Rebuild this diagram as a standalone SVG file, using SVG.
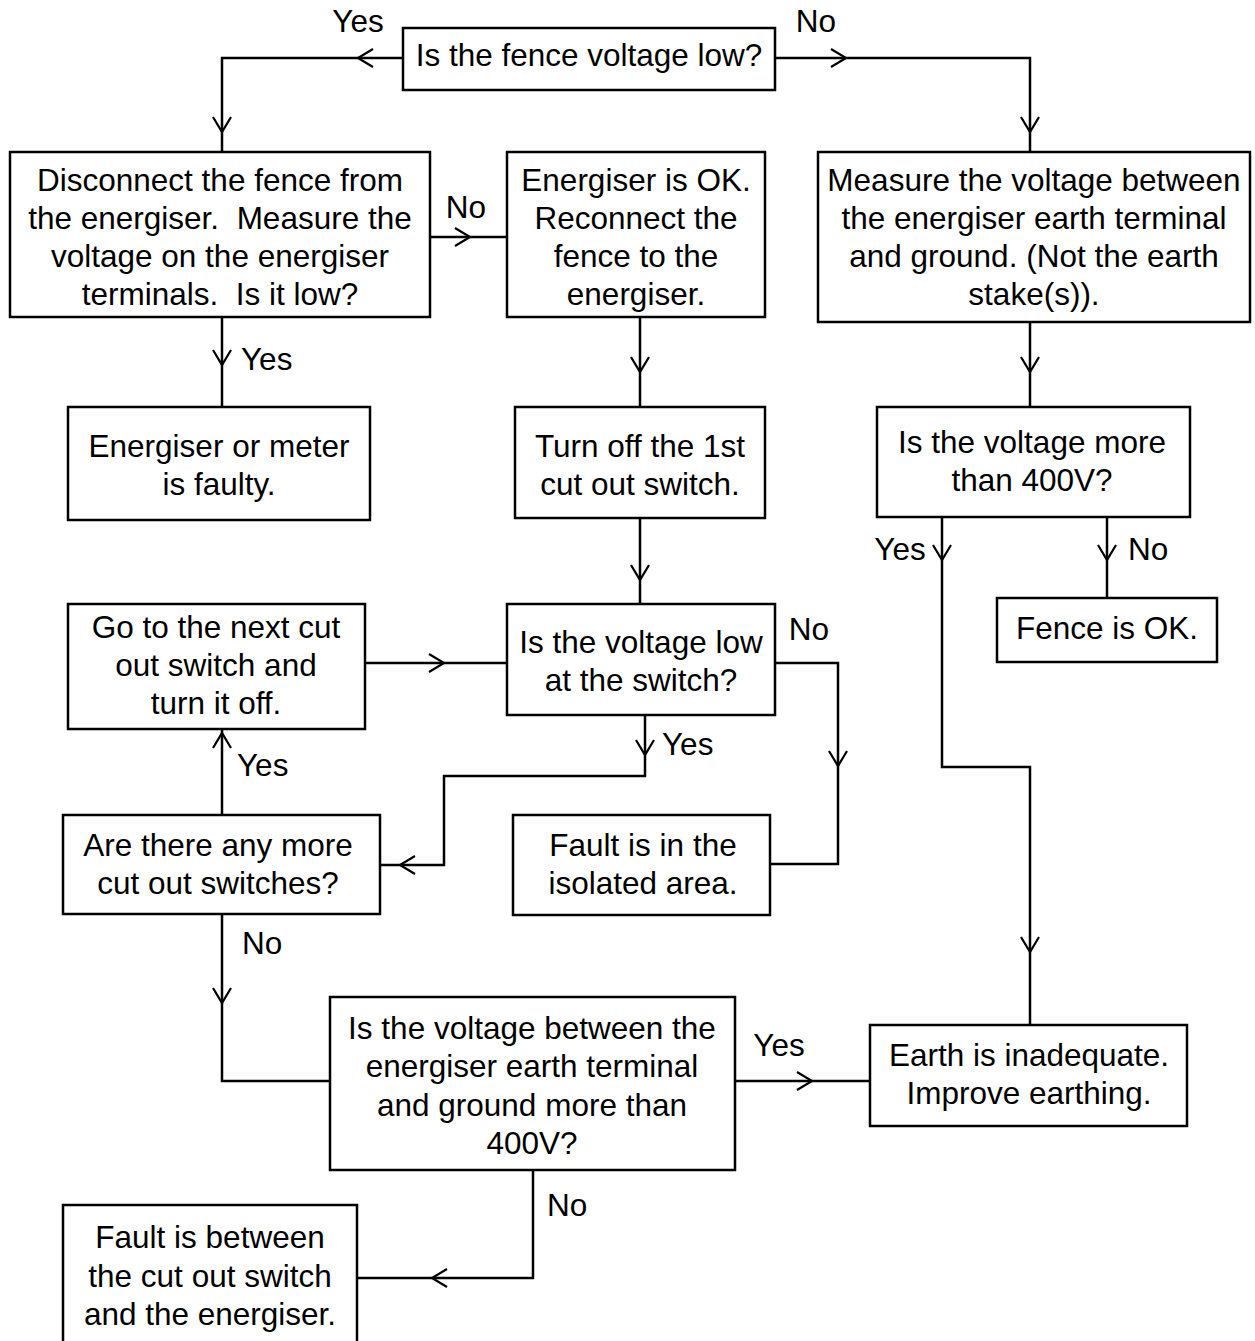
<svg xmlns="http://www.w3.org/2000/svg" width="1255" height="1341" viewBox="0 0 1255 1341">
<style>
.box{fill:#fff;stroke:#000;stroke-width:2.5}
.ln{fill:none;stroke:#000;stroke-width:2.5}
.ah{fill:none;stroke:#000;stroke-width:2.2}
text{font-family:"Liberation Sans",Arial,sans-serif;font-size:31.5px;fill:#000;white-space:pre}
.c{text-anchor:middle}
</style>
<defs>
<path id="ad" d="M-9,-15 L0,0 L9,-15" class="ah"/>
<path id="ar" d="M-15,-9 L0,0 L-15,9" class="ah"/>
<path id="al" d="M15,-9 L0,0 L15,9" class="ah"/>
<path id="au" d="M-9,15 L0,0 L9,15" class="ah"/>
</defs>
<g id="connectors">
<path class="ln" d="M403,58 H222 V152"/>
<use href="#al" x="358" y="58"/>
<use href="#ad" x="222" y="132"/>
<path class="ln" d="M775,58 H1030 V152"/>
<use href="#ar" x="846" y="58"/>
<use href="#ad" x="1030" y="132"/>
<path class="ln" d="M430,237 H507"/>
<use href="#ar" x="470" y="237"/>
<path class="ln" d="M222,317 V407"/>
<use href="#ad" x="222" y="365"/>
<path class="ln" d="M640,317 V407"/>
<use href="#ad" x="640" y="372"/>
<path class="ln" d="M1030,322 V407"/>
<use href="#ad" x="1030" y="372"/>
<path class="ln" d="M640,518 V604"/>
<use href="#ad" x="640" y="580"/>
<path class="ln" d="M942,517 V767 H1030 V1025"/>
<use href="#ad" x="942" y="560"/>
<use href="#ad" x="1030" y="952"/>
<path class="ln" d="M1107,517 V598"/>
<use href="#ad" x="1107" y="560"/>
<path class="ln" d="M365,663 H507"/>
<use href="#ar" x="444" y="663"/>
<path class="ln" d="M775,663 H838 V864 H768"/>
<use href="#ad" x="838" y="766"/>
<path class="ln" d="M645,715 V776 H444 V865 H380"/>
<use href="#ad" x="645" y="755"/>
<use href="#al" x="400" y="865"/>
<path class="ln" d="M222,815 V729"/>
<use href="#au" x="222" y="733"/>
<path class="ln" d="M222,914 V1081 H330"/>
<use href="#ad" x="222" y="1003"/>
<path class="ln" d="M735,1081 H870"/>
<use href="#ar" x="812" y="1081"/>
<path class="ln" d="M533,1170 V1278 H357"/>
<use href="#al" x="432" y="1278"/>
</g>
<g id="labels">
<text x="358" y="32" class="c">Yes</text>
<text x="816" y="32" class="c">No</text>
<text x="466" y="218" class="c">No</text>
<text x="241" y="370">Yes</text>
<text x="900" y="560" class="c">Yes</text>
<text x="1128" y="560">No</text>
<text x="809" y="640" class="c">No</text>
<text x="662" y="755">Yes</text>
<text x="237" y="776">Yes</text>
<text x="242" y="954">No</text>
<text x="779" y="1056" class="c">Yes</text>
<text x="547" y="1216">No</text>
</g>
<g id="n1"><rect class="box" x="403" y="28" width="372" height="62"/><text x="589" y="66" class="c">Is the fence voltage low?</text></g>
<g id="n2"><rect class="box" x="10" y="152" width="420" height="165"/>
<text x="220" y="191" class="c">Disconnect the fence from</text>
<text x="220" y="229" class="c">the energiser.  Measure the</text>
<text x="220" y="267" class="c">voltage on the energiser</text>
<text x="220" y="305" class="c">terminals.  Is it low?</text></g>
<g id="n3"><rect class="box" x="507" y="152" width="258" height="165"/>
<text x="636" y="191" class="c">Energiser is OK.</text>
<text x="636" y="229" class="c">Reconnect the</text>
<text x="636" y="267" class="c">fence to the</text>
<text x="636" y="305" class="c">energiser.</text></g>
<g id="n4"><rect class="box" x="818" y="152" width="432" height="170"/>
<text x="1034" y="191" class="c">Measure the voltage between</text>
<text x="1034" y="229" class="c">the energiser earth terminal</text>
<text x="1034" y="267" class="c">and ground. (Not the earth</text>
<text x="1034" y="305" class="c">stake(s)).</text></g>
<g id="n5"><rect class="box" x="68" y="407" width="302" height="113"/>
<text x="219" y="457" class="c">Energiser or meter</text>
<text x="219" y="495" class="c">is faulty.</text></g>
<g id="n6"><rect class="box" x="515" y="407" width="250" height="111"/>
<text x="640" y="457" class="c">Turn off the 1st</text>
<text x="640" y="495" class="c">cut out switch.</text></g>
<g id="n7"><rect class="box" x="877" y="407" width="313" height="110"/>
<text x="1032" y="453" class="c">Is the voltage more</text>
<text x="1032" y="491" class="c">than 400V?</text></g>
<g id="n8"><rect class="box" x="997" y="598" width="220" height="64"/>
<text x="1107" y="639" class="c">Fence is OK.</text></g>
<g id="n9"><rect class="box" x="68" y="604" width="297" height="125"/>
<text x="216" y="638" class="c">Go to the next cut</text>
<text x="216" y="676" class="c">out switch and</text>
<text x="216" y="714" class="c">turn it off.</text></g>
<g id="n10"><rect class="box" x="507" y="604" width="268" height="111"/>
<text x="641" y="653" class="c">Is the voltage low</text>
<text x="641" y="691" class="c">at the switch?</text></g>
<g id="n11"><rect class="box" x="63" y="815" width="317" height="99"/>
<text x="218" y="856" class="c">Are there any more</text>
<text x="218" y="894" class="c">cut out switches?</text></g>
<g id="n12"><rect class="box" x="513" y="815" width="257" height="100"/>
<text x="643" y="856" class="c">Fault is in the</text>
<text x="643" y="894" class="c">isolated area.</text></g>
<g id="n13"><rect class="box" x="330" y="997" width="405" height="173"/>
<text x="532" y="1039" class="c">Is the voltage between the</text>
<text x="532" y="1077" class="c">energiser earth terminal</text>
<text x="532" y="1116" class="c">and ground more than</text>
<text x="532" y="1154" class="c">400V?</text></g>
<g id="n14"><rect class="box" x="870" y="1025" width="317" height="101"/>
<text x="1029" y="1066" class="c">Earth is inadequate.</text>
<text x="1029" y="1104" class="c">Improve earthing.</text></g>
<g id="n15"><rect class="box" x="63" y="1205" width="294" height="140"/>
<text x="210" y="1248" class="c">Fault is between</text>
<text x="210" y="1287" class="c">the cut out switch</text>
<text x="210" y="1325" class="c">and the energiser.</text></g>
</svg>
